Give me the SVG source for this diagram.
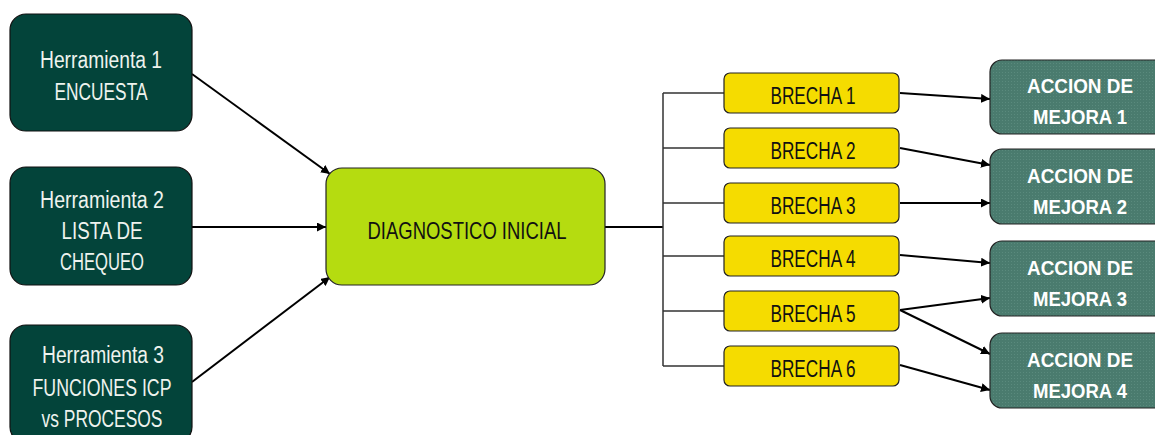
<svg xmlns="http://www.w3.org/2000/svg" width="1155" height="435" viewBox="0 0 1155 435">
  <defs>
    <marker id="arrow" viewBox="0 0 10 10" refX="10" refY="5" markerWidth="9" markerHeight="9" markerUnits="userSpaceOnUse" orient="auto">
      <path d="M0,0 L10,5 L0,10 z" fill="#000"/>
    </marker>
    <pattern id="grain" width="3" height="3" patternUnits="userSpaceOnUse">
      <rect width="3" height="3" fill="#4a7b6e"/>
      <rect width="1" height="1" fill="#5a8a7d"/>
    </pattern>
  </defs>
  <style>
    text { font-family: "Liberation Sans", Arial, sans-serif; text-anchor: middle; }
    .tool rect { fill: #03443a; stroke: #111; stroke-width: 1.2; }
    .tool text { fill: #eef3ee; font-size: 23px; }
    .diag rect { fill: #b5dc10; stroke: #222; stroke-width: 1.2; }
    .diag text { fill: #111; font-size: 24px; }
    .gap rect { fill: #f5dc00; stroke: #222; stroke-width: 1.2; }
    .gap text { fill: #111; font-size: 23px; }
    .action rect { fill: url(#grain); stroke: #222; stroke-width: 1.2; }
    .action text { fill: #fff; font-size: 21px; font-weight: bold; }
    .arrow { stroke: #000; stroke-width: 2; fill: none; marker-end: url(#arrow); }
    .tree { stroke: #333; stroke-width: 1.5; fill: none; }
  </style>

  <rect width="1155" height="435" fill="#fff"/>

  <!-- connectors -->
  <g id="connectors">
    <line class="arrow" x1="192" y1="74" x2="330" y2="174"/>
    <line class="arrow" x1="192" y1="227" x2="326" y2="227"/>
    <line class="arrow" x1="192" y1="382" x2="330" y2="277"/>
    <line x1="605" y1="227" x2="663" y2="227" stroke="#000" stroke-width="2"/>
    <path class="tree" d="M663,93 V366 M663,93 H724 M663,148 H724 M663,203 H724 M663,256 H724 M663,311 H724 M663,366 H724"/>
    <line class="arrow" x1="900" y1="93" x2="990" y2="99"/>
    <line class="arrow" x1="900" y1="148" x2="990" y2="165"/>
    <line class="arrow" x1="900" y1="203" x2="990" y2="203"/>
    <line class="arrow" x1="900" y1="255" x2="990" y2="263"/>
    <line class="arrow" x1="900" y1="310" x2="990" y2="298"/>
    <line class="arrow" x1="900" y1="310" x2="990" y2="354"/>
    <line class="arrow" x1="900" y1="365" x2="990" y2="390"/>
  </g>

  <!-- input tools -->
  <g id="tool1" class="tool">
    <rect x="10" y="14" width="182" height="117" rx="16"/>
    <text x="101" y="68" textLength="122" lengthAdjust="spacingAndGlyphs">Herramienta 1</text>
    <text x="101" y="100" textLength="93" lengthAdjust="spacingAndGlyphs">ENCUESTA</text>
  </g>
  <g id="tool2" class="tool">
    <rect x="10" y="167" width="182" height="118" rx="16"/>
    <text x="102" y="208" textLength="124" lengthAdjust="spacingAndGlyphs">Herramienta 2</text>
    <text x="102" y="239" textLength="81" lengthAdjust="spacingAndGlyphs">LISTA DE</text>
    <text x="102" y="270" textLength="84" lengthAdjust="spacingAndGlyphs">CHEQUEO</text>
  </g>
  <g id="tool3" class="tool">
    <rect x="10" y="325" width="182" height="118" rx="16"/>
    <text x="103" y="363" textLength="122" lengthAdjust="spacingAndGlyphs">Herramienta 3</text>
    <text x="102" y="396" textLength="139" lengthAdjust="spacingAndGlyphs">FUNCIONES ICP</text>
    <text x="102" y="427" textLength="121" lengthAdjust="spacingAndGlyphs">vs PROCESOS</text>
  </g>

  <!-- central diagnosis -->
  <g id="diagnostico" class="diag">
    <rect x="326" y="168" width="279" height="117" rx="16"/>
    <text x="467" y="239" textLength="199" lengthAdjust="spacingAndGlyphs">DIAGNOSTICO INICIAL</text>
  </g>

  <!-- gaps -->
  <g id="brecha1" class="gap">
    <rect x="724" y="73" width="175" height="40" rx="6"/>
    <text x="813" y="104" textLength="85" lengthAdjust="spacingAndGlyphs">BRECHA 1</text>
  </g>
  <g id="brecha2" class="gap">
    <rect x="724" y="128" width="175" height="40" rx="6"/>
    <text x="813" y="159" textLength="85" lengthAdjust="spacingAndGlyphs">BRECHA 2</text>
  </g>
  <g id="brecha3" class="gap">
    <rect x="724" y="183" width="175" height="40" rx="6"/>
    <text x="813" y="214" textLength="85" lengthAdjust="spacingAndGlyphs">BRECHA 3</text>
  </g>
  <g id="brecha4" class="gap">
    <rect x="724" y="236" width="175" height="40" rx="6"/>
    <text x="813" y="267" textLength="85" lengthAdjust="spacingAndGlyphs">BRECHA 4</text>
  </g>
  <g id="brecha5" class="gap">
    <rect x="724" y="291" width="175" height="40" rx="6"/>
    <text x="813" y="322" textLength="85" lengthAdjust="spacingAndGlyphs">BRECHA 5</text>
  </g>
  <g id="brecha6" class="gap">
    <rect x="724" y="346" width="175" height="40" rx="6"/>
    <text x="813" y="377" textLength="85" lengthAdjust="spacingAndGlyphs">BRECHA 6</text>
  </g>

  <!-- improvement actions -->
  <g id="accion1" class="action">
    <rect x="990" y="60" width="180" height="74" rx="12"/>
    <text x="1080" y="93" textLength="106" lengthAdjust="spacingAndGlyphs">ACCION DE</text>
    <text x="1080" y="124" textLength="94" lengthAdjust="spacingAndGlyphs">MEJORA 1</text>
  </g>
  <g id="accion2" class="action">
    <rect x="990" y="149" width="180" height="75" rx="12"/>
    <text x="1080" y="183" textLength="106" lengthAdjust="spacingAndGlyphs">ACCION DE</text>
    <text x="1080" y="214" textLength="94" lengthAdjust="spacingAndGlyphs">MEJORA 2</text>
  </g>
  <g id="accion3" class="action">
    <rect x="990" y="241" width="180" height="75" rx="12"/>
    <text x="1080" y="275" textLength="106" lengthAdjust="spacingAndGlyphs">ACCION DE</text>
    <text x="1080" y="306" textLength="94" lengthAdjust="spacingAndGlyphs">MEJORA 3</text>
  </g>
  <g id="accion4" class="action">
    <rect x="990" y="333" width="180" height="75" rx="12"/>
    <text x="1080" y="367" textLength="106" lengthAdjust="spacingAndGlyphs">ACCION DE</text>
    <text x="1080" y="398" textLength="94" lengthAdjust="spacingAndGlyphs">MEJORA 4</text>
  </g>
</svg>
